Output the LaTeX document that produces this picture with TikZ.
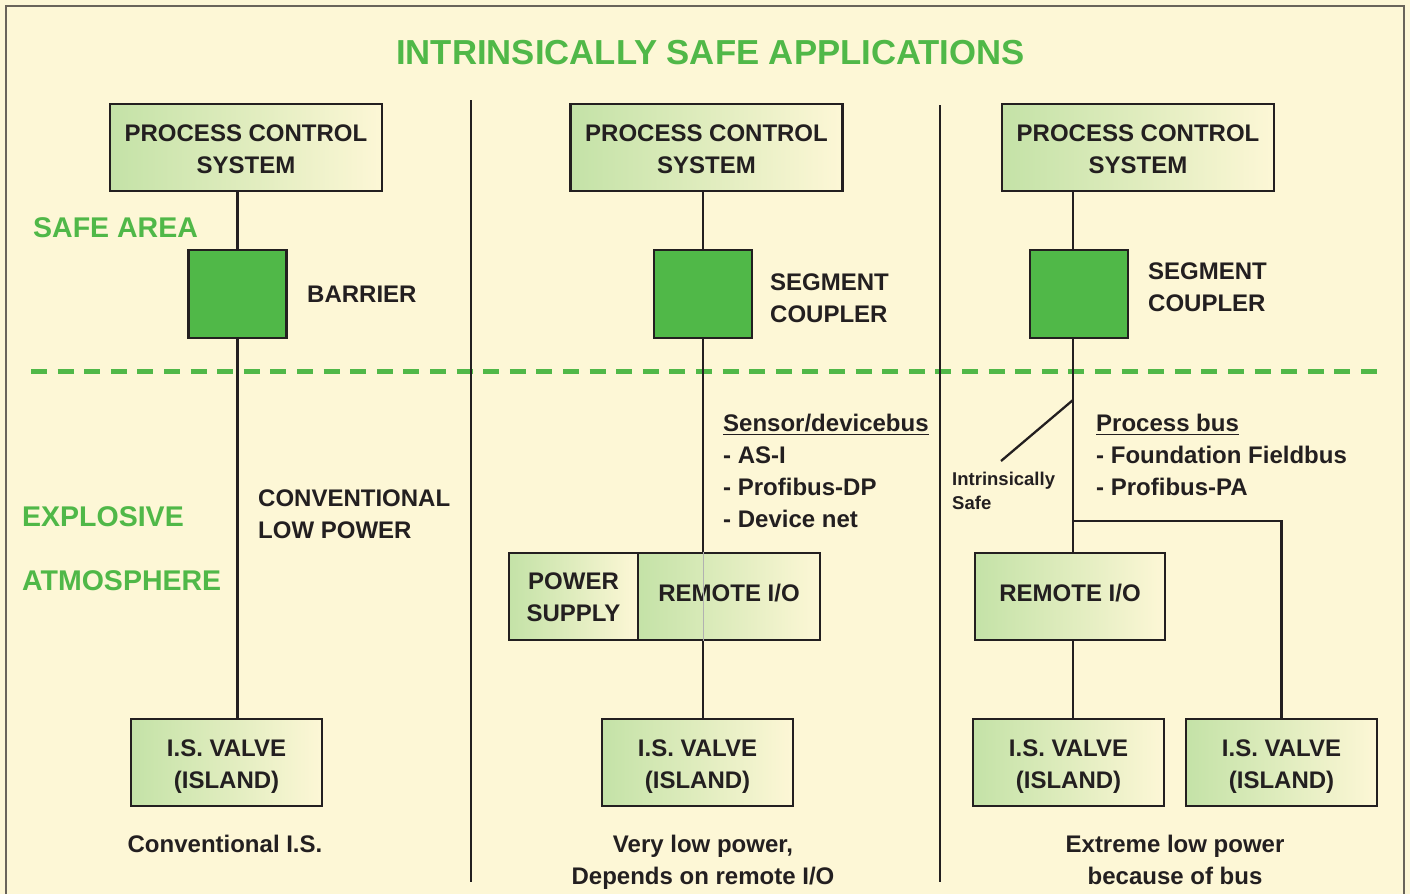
\documentclass[tikz,border=0pt]{standalone}
\usepackage{fontspec}
\setmainfont{Liberation Sans}

\definecolor{cream}{RGB}{253,247,214}
\definecolor{isgreen}{RGB}{80,184,72}
\definecolor{ink}{RGB}{35,31,32}
\definecolor{framegray}{RGB}{105,100,90}

\newcommand\titlefnt{\fontsize{34.7}{40}\selectfont\bfseries}
\newcommand\zonefnt{\fontsize{28.5}{34}\selectfont\bfseries}
\newcommand\boxfnt{\fontsize{24}{32}\selectfont\bfseries}
\newcommand\isfnt{\fontsize{18.5}{24}\selectfont\bfseries}

\tikzset{
  box/.style={draw=ink, line width=2.6pt, inner sep=0pt, align=center,
    font=\boxfnt, text=ink, left color=isgreen!33!cream,
    right color=cream, middle color=isgreen!17!cream},
  cplbox/.style={draw=ink, line width=2.6pt, fill=isgreen,
    minimum width=98pt, minimum height=88pt, inner sep=0pt},
  note/.style={font=\boxfnt, text=ink, inner sep=0pt},
  zonelbl/.style={font=\zonefnt, text=isgreen, inner sep=0pt, anchor=base west},
  wire/.style={draw=ink, line width=2.3pt},
  uline/.style={draw=ink, line width=1.8pt},
}

\begin{document}
\begin{tikzpicture}[x=1pt,y=-1pt]
  \useasboundingbox (0,0) rectangle (1410,894);
  \fill[cream] (0,0) rectangle (1410,894);
  \draw[framegray, line width=2pt] (6,894) -- (6,6) -- (1404,6) -- (1404,894);

  \node[font=\titlefnt, text=isgreen, inner sep=0pt, anchor=base] (title) at (710.5,64)
    {INTRINSICALLY SAFE APPLICATIONS};

  % zones
  \node[zonelbl] (safe) at (33,237) {SAFE AREA};
  \node[zonelbl] (expl) at (22,526) {EXPLOSIVE};
  \node[zonelbl] (atmo) at (22,590) {ATMOSPHERE};
  \draw[isgreen, line width=5pt, dash pattern=on 16pt off 10.6pt] (31,371) -- (1378,371);
  \draw[ink, line width=2.8pt] (471,100) -- (471,882);
  \draw[ink, line width=2.8pt] (940,105) -- (940,882);

  % boxes
  \foreach \x [count=\i] in {246,706.5,1138}
    \node[box, minimum width=272pt, minimum height=87pt] (pcs\i) at (\x,147.5)
      {\rule{0pt}{20pt}PROCESS CONTROL\\SYSTEM};
  \foreach \x [count=\i] in {237.5,703,1079}
    \node[cplbox] (cpl\i) at (\x,294) {};
  \foreach \x [count=\i] in {226.5,697.5,1068.5,1281.5}
    \node[box, minimum width=191pt, minimum height=87pt] (valve\i) at (\x,762.5)
      {\rule{0pt}{25pt}I.S. VALVE\\(ISLAND)};
  \node[box, minimum width=129pt, minimum height=87pt] (psu) at (573.5,596.5)
    {\rule{0pt}{18pt}POWER\\SUPPLY};
  \node[box, minimum width=182pt, minimum height=87pt, text height=17.2pt, text depth=7pt]
    (rio2) at (729,596.5) {REMOTE I/O};
  \node[box, minimum width=190pt, minimum height=87pt, text height=17.2pt, text depth=7pt]
    (rio3) at (1070,596.5) {REMOTE I/O};

  % labels
  \node[note, anchor=base west] (bar) at (307,302) {BARRIER};
  \node[note, anchor=base west] (conv) at (258,506) {CONVENTIONAL};
  \node[note, anchor=base west] (lowp) at (258,538) {LOW POWER};
  \node[note, anchor=base west] (seg2) at (770,290) {SEGMENT};
  \node[note, anchor=base west] (cou2) at (770,322) {COUPLER};
  \node[note, anchor=base west] (seg3) at (1148,279) {SEGMENT};
  \node[note, anchor=base west] (cou3) at (1148,311) {COUPLER};

  \node[note, anchor=base west] (sdb) at (723,431) {Sensor/devicebus};
  \draw[uline] ([yshift=-3.5pt]sdb.base west) -- ([yshift=-3.5pt]sdb.base east);
  \foreach \t [count=\i] in {AS-I, Profibus-DP, Device net}
    \node[note, anchor=base west] (sdb\i) at (723,{431+32*\i}) {- \t};

  \node[note, anchor=base west] (pbus) at (1096,431) {Process bus};
  \draw[uline] ([yshift=-3.5pt]pbus.base west) -- ([yshift=-3.5pt]pbus.base east);
  \foreach \t [count=\i] in {Foundation Fieldbus, Profibus-PA}
    \node[note, anchor=base west] (pbus\i) at (1096,{431+32*\i}) {- \t};

  \node[note, font=\isfnt, anchor=base west] (isl1) at (952,485.6) {Intrinsically};
  \node[note, font=\isfnt, anchor=base west] (isl2) at (952,509.6) {Safe};

  \node[note, anchor=base] (sum1) at (225,852.6) {Conventional I.S.};
  \node[note, anchor=base] (sum2a) at (703,852.6) {Very low power,};
  \node[note, anchor=base] (sum2b) at (703,884.6) {Depends on remote I/O};
  \node[note, anchor=base] (sum3a) at (1175,852.6) {Extreme low power};
  \node[note, anchor=base] (sum3b) at (1175,884.6) {because of bus};

  % connectors
  \draw[wire] (pcs1.south -| cpl1) -- (cpl1.north);
  \draw[wire] (cpl1.south) -- (cpl1.south |- valve1.north);

  \draw[wire] (pcs2.south -| cpl2) -- (cpl2.north);
  \draw[wire] (cpl2.south) -- (cpl2.south |- rio2.north);
  \draw[ink!35, line width=1pt] (rio2.north -| cpl2) -- (rio2.south -| cpl2);
  \draw[wire] (rio2.south -| cpl2) -- (valve2.north -| cpl2);

  \coordinate (bus3) at (1073,521);
  \coordinate (tap) at (1073,400);
  \coordinate (isend) at (1001,461);
  \draw[wire] (pcs3.south -| bus3) -- (cpl3.north -| bus3);
  \draw[wire] (cpl3.south -| bus3) -- (rio3.north -| bus3);
  \draw[wire] (rio3.south -| bus3) -- (valve3.north -| bus3);
  \draw[wire] (bus3) -| (valve4.north);
  \draw[wire] (tap) -- (isend);
\end{tikzpicture}
\end{document}
